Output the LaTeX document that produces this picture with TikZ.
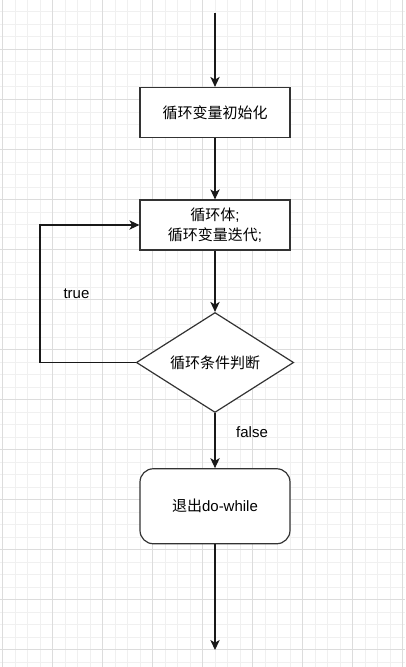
\documentclass[tikz,border=0pt]{standalone}
\usepackage{fontspec}
\setmainfont{Liberation Sans}
\newfontfamily\cjk{Noto Sans CJK SC}
\usetikzlibrary{arrows.meta, shapes.geometric}
\definecolor{gridminor}{HTML}{F0F0F0}
\definecolor{gridmajor}{HTML}{DCDCDC}
\tikzset{
  flow/.style={
    -{Stealth[length=7.5pt,width=7pt,inset=2pt]},
    line width=0.9pt,
    draw=black!90},
  stepbox/.style={
    draw=black!80,
    line width=0.9pt,
    fill=white,
    minimum width=112.5pt,
    minimum height=37.5pt,
    align=center},
  cond/.style={
    stepbox,
    shape=diamond,
    inner sep=0pt,
    aspect=1.6,
    minimum width=118pt,
    minimum height=75pt},
  endbox/.style={
    stepbox,
    rounded corners=10pt,
    minimum height=56.25pt},
  lbl/.style={font=\fontsize{11.25pt}{14.5pt}\selectfont}
  }

\begin{document}
\begin{tikzpicture}[x=0.75pt, y=-0.75pt, font=\fontsize{11.25pt}{14.5pt}\selectfont]
		% background and grid
		\fill [white] (0,0) rectangle (405,667);
		\useasboundingbox (0,0) rectangle (405,667);
		\foreach \gx in {2.5,15,...,402.5}
			\draw [gridminor, line width=0.75pt] (\gx,0) -- (\gx,667);
		\foreach \gy in {12,24.5,...,662}
			\draw [gridminor, line width=0.75pt] (0,\gy) -- (405,\gy);
		\foreach \gx in {2.5,52.5,...,402.5}
			\draw [gridmajor, line width=0.75pt] (\gx,0) -- (\gx,667);
		\foreach \gy in {49.5,99.5,...,649.5}
			\draw [gridmajor, line width=0.75pt] (0,\gy) -- (405,\gy);
		% flow chart
		\coordinate (start) at (215,13);
		\node [stepbox] (init) at (215,112.5) {\cjk 循环变量初始化};
		\node [stepbox] (body) at (215,225) {{\cjk 循环体};\\{\cjk 循环变量迭代};};
		\node [cond] (check) at (215,362.5) {\cjk 循环条件判断};
		\node [endbox] (exit) at (215,506.25) {{\cjk 退出}do-while};
		\coordinate (finish) at (215,650);
		\coordinate (back) at (40,362.5);
		\node [lbl] (yes) at (76.5,294) {true};
		\node [lbl] (no) at (252,432) {false};
		\draw [flow] (start) to (init);
		\draw [flow] (init) to (body);
		\draw [flow] (body) to (check);
		\draw [flow] (check.west) -- (back) |- (body.west);
		\draw [flow] (check) to (exit);
		\draw [flow] (exit) to (finish);
	\end{tikzpicture}
\end{document}
